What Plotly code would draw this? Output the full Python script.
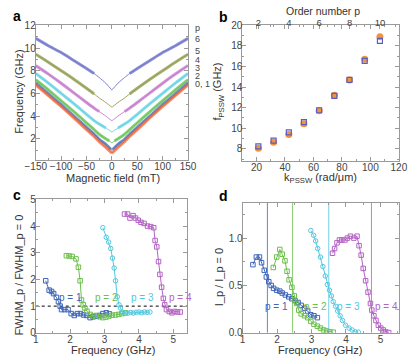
import plotly.graph_objects as go

W, H = 415, 363
FONT = "Liberation Sans, Arial, sans-serif"

# ---- panel a: PSSW branches vs field ----
field = [-150, -125, -100, -75, -50, -35, -25, -12, -5, -2, 0, 2, 5, 12, 25, 35, 50, 75, 100, 125, 150]
branch_names = ["6", "5", "4", "3", "2", "1", "0"]
branch_colors = ["#6b6fc9", "#8c9a48", "#c274c9", "#5fd0e2", "#62c24e", "#3f6cc0", "#f26a3c"]
f_p6 = [10.85, 10.2, 9.6, 8.9, 8.2, 7.75, 7.4, 6.9, 6.55, 6.4, 6.3, 6.4, 6.55, 6.9, 7.4, 7.75, 8.2, 8.9, 9.6, 10.2, 10.85]
f_p5 = [9.45, 8.75, 8.0, 7.25, 6.45, 5.95, 5.6, 5.2, 4.95, 4.85, 4.8, 4.85, 4.95, 5.2, 5.6, 5.95, 6.45, 7.25, 8.0, 8.75, 9.45]
f_p4 = [8.45, 7.7, 6.9, 6.05, 5.2, 4.7, 4.4, 4.0, 3.75, 3.65, 3.6, 3.65, 3.75, 4.0, 4.4, 4.7, 5.2, 6.05, 6.9, 7.7, 8.45]
f_p3 = [7.75, 6.9, 6.0, 5.1, 4.15, 3.6, 3.3, 2.95, 2.75, 2.65, 2.6, 2.65, 2.75, 2.95, 3.3, 3.6, 4.15, 5.1, 6.0, 6.9, 7.75]
f_p2 = [7.2, 6.3, 5.35, 4.4, 3.4, 2.8, 2.4, 2.0, 1.8, 1.7, 1.65, 1.7, 1.8, 2.0, 2.4, 2.8, 3.4, 4.4, 5.35, 6.3, 7.2]
f_p1 = [6.9, 5.95, 5.0, 4.0, 3.0, 2.4, 1.95, 1.5, 1.2, 1.05, 1.0, 1.05, 1.2, 1.5, 1.95, 2.4, 3.0, 4.0, 5.0, 5.95, 6.9]
f_p0 = [6.75, 5.8, 4.85, 3.85, 2.8, 2.2, 1.75, 1.25, 0.95, 0.8, 0.75, 0.8, 0.95, 1.25, 1.75, 2.2, 2.8, 3.85, 4.85, 5.8, 6.75]
# measured data only exists for |B| >= cutoff
data_cutoff = [35, 35, 25, 12, 5, 2, 0]
branch_labels = ["p", "6", "5", "4", "3", "2", "0, 1"]
branch_label_y = [23, 34, 47, 56, 64, 72, 81]

# ---- panel b ----
k_pssw = [21.3, 32.0, 42.7, 53.3, 64.0, 74.7, 85.3, 96.0, 106.7]
f_meas = [8.05, 8.65, 9.4, 10.45, 11.7, 13.2, 14.7, 16.7, 18.9]
f_calc = [8.25, 8.8, 9.6, 10.6, 11.75, 13.15, 14.7, 16.55, 18.5]
order_ticks = [2, 4, 6, 8, 10]

# ---- panel c: linewidth ratio ----
c_p1_x = [1.29, 1.39, 1.46, 1.52, 1.6, 1.66, 1.71, 1.75, 1.84, 1.94, 2.03, 2.12, 2.21, 2.3, 2.39, 2.48, 2.58, 2.67, 2.76, 2.86, 2.95, 3.05, 3.14]
c_p1_y = [1.95, 1.6, 1.55, 1.47, 1.33, 1.17, 1.0, 0.87, 0.87, 0.87, 0.72, 0.65, 0.72, 0.72, 0.67, 0.65, 0.57, 0.6, 0.62, 0.65, 0.72, 0.75, 0.71]
c_p2_x = [1.89, 1.97, 2.06, 2.17, 2.24, 2.29, 2.33, 2.38, 2.43, 2.49, 2.58, 2.67, 2.76, 2.86, 2.95, 3.04, 3.13, 3.22, 3.32, 3.41, 3.5, 3.6]
c_p2_y = [2.89, 2.88, 2.86, 2.77, 2.46, 1.95, 1.23, 1.05, 0.93, 0.81, 0.69, 0.63, 0.65, 0.6, 0.57, 0.59, 0.63, 0.66, 0.67, 0.69, 0.72, 0.75]
c_p3_x = [2.95, 3.05, 3.12, 3.18, 3.23, 3.28, 3.32, 3.37, 3.42, 3.46, 3.52, 3.6, 3.68, 3.76, 3.84, 3.92, 4.0, 4.08, 4.16, 4.24, 4.32]
c_p3_y = [3.94, 3.58, 3.4, 3.16, 2.8, 2.43, 1.95, 1.35, 1.05, 0.93, 0.77, 0.73, 0.74, 0.76, 0.74, 0.77, 0.78, 0.75, 0.78, 0.77, 0.78]
c_p4_x = [3.58, 3.67, 3.74, 3.83, 3.9, 3.98, 4.06, 4.15, 4.25, 4.34, 4.43, 4.47, 4.52, 4.57, 4.61, 4.66, 4.71, 4.75, 4.8, 4.88, 4.96, 5.04, 5.12, 5.2]
c_p4_y = [4.45, 4.45, 4.3, 4.39, 4.3, 4.22, 4.14, 4.1, 4.0, 3.98, 3.94, 3.46, 3.22, 2.67, 2.19, 1.71, 1.29, 1.05, 0.87, 0.8, 0.75, 0.8, 0.78, 0.78]

# ---- panel d: intensity ratio ----
d_p1_x = [1.3, 1.4, 1.49, 1.55, 1.63, 1.69, 1.76, 1.83, 1.9, 1.99, 2.08, 2.15, 2.24, 2.34, 2.43, 2.52, 2.61, 2.7, 2.8, 2.89, 2.98, 3.07, 3.17]
d_p1_y = [0.72, 0.8, 0.8, 0.74, 0.66, 0.59, 0.54, 0.5, 0.47, 0.45, 0.44, 0.42, 0.4, 0.38, 0.36, 0.34, 0.32, 0.29, 0.26, 0.23, 0.19, 0.18, 0.16]
d_p2_x = [1.89, 1.99, 2.08, 2.15, 2.23, 2.29, 2.35, 2.43, 2.5, 2.57, 2.63, 2.7, 2.8, 2.89, 2.98, 3.07, 3.17, 3.26, 3.35, 3.44, 3.53, 3.63]
d_p2_y = [0.69, 0.8, 0.88, 0.83, 0.76, 0.65, 0.56, 0.48, 0.39, 0.31, 0.24, 0.2, 0.18, 0.16, 0.12, 0.09, 0.07, 0.05, 0.03, 0.02, 0.01, 0.007]
d_p3_x = [2.98, 3.06, 3.12, 3.18, 3.26, 3.33, 3.4, 3.46, 3.52, 3.58, 3.63, 3.7, 3.76, 3.83, 3.9, 3.99, 4.09, 4.18, 4.27, 4.36]
d_p3_y = [1.08, 1.03, 0.97, 0.89, 0.8, 0.7, 0.6, 0.51, 0.45, 0.39, 0.33, 0.28, 0.23, 0.18, 0.13, 0.08, 0.05, 0.03, 0.01, 0.007]
d_p4_x = [3.61, 3.67, 3.74, 3.81, 3.88, 3.97, 4.04, 4.13, 4.23, 4.32, 4.38, 4.44, 4.5, 4.57, 4.64, 4.71, 4.75, 4.81, 4.87, 4.94, 5.01, 5.08, 5.15, 5.24]
d_p4_y = [0.84, 0.89, 0.95, 0.98, 0.98, 0.98, 1.0, 1.02, 1.0, 1.02, 0.92, 0.82, 0.68, 0.55, 0.43, 0.31, 0.24, 0.18, 0.13, 0.08, 0.05, 0.03, 0.01, 0.003]
d_cutoff_freq = [1.72, 2.45, 3.5, 4.74]

mode_names = ["p = 1", "p = 2", "p = 3", "p = 4"]
mode_colors = ["#3f66b8", "#6cc04c", "#52c8e0", "#b463c4"]
mode_symbols = ["square-open", "square-open", "circle-open", "square-open"]
c_label_x = [2.01, 3.05, 4.1, 5.2]
d_label_x = [1.99, 3.12, 4.07, 5.17]


def px(x):
    return x / W


def py(y):
    return 1 - y / H


fig = go.Figure()

branches = [f_p6, f_p5, f_p4, f_p3, f_p2, f_p1, f_p0]
for name, col, ys, cut in zip(branch_names, branch_colors, branches, data_cutoff):
    fig.add_trace(go.Scatter(x=field, y=ys, mode="lines", line=dict(color=col, width=0.9, shape="spline", smoothing=0.5),
                             xaxis="x", yaxis="y", showlegend=False))
    for side in (-1, 1):
        xs = [b for b in field if b * side >= cut]
        yy = [f for b, f in zip(field, ys) if b * side >= cut]
        fig.add_trace(go.Scatter(x=xs, y=yy, mode="lines", opacity=0.75,
                                 line=dict(color=col, width=3, shape="spline", smoothing=0.5),
                                 xaxis="x", yaxis="y", showlegend=False))

fig.add_trace(go.Scatter(x=k_pssw, y=f_meas, mode="markers", xaxis="x2", yaxis="y2", showlegend=False,
                         marker=dict(symbol="circle", size=7, color="#f5923c")))
fig.add_trace(go.Scatter(x=k_pssw, y=f_calc, mode="markers", xaxis="x2", yaxis="y2", showlegend=False,
                         marker=dict(symbol="square-open", size=5, color="#5a5ec0", line=dict(width=1.2))))
# empty trace so the top "order number" axis gets drawn
fig.add_trace(go.Scatter(x=order_ticks, y=[None] * len(order_ticks), mode="markers", xaxis="x5", yaxis="y2",
                         showlegend=False, hoverinfo="skip"))

c_x = [c_p1_x, c_p2_x, c_p3_x, c_p4_x]
c_y = [c_p1_y, c_p2_y, c_p3_y, c_p4_y]
d_x = [d_p1_x, d_p2_x, d_p3_x, d_p4_x]
d_y = [d_p1_y, d_p2_y, d_p3_y, d_p4_y]

fig.add_trace(go.Scatter(x=[1, 5.4], y=[1, 1], mode="lines", xaxis="x3", yaxis="y3", showlegend=False,
                         line=dict(color="black", width=1, dash="dot")))
for i in range(4):
    fig.add_trace(go.Scatter(x=c_x[i], y=c_y[i], mode="lines+markers", xaxis="x3", yaxis="y3", showlegend=False,
                             line=dict(color=mode_colors[i], width=1),
                             marker=dict(symbol=mode_symbols[i], size=4.5, color=mode_colors[i], line=dict(width=1))))
    fig.add_trace(go.Scatter(x=[d_cutoff_freq[i]] * 2, y=[0, 1.375], mode="lines", xaxis="x4", yaxis="y4",
                             showlegend=False, line=dict(color=mode_colors[i], width=0.8)))
    fig.add_trace(go.Scatter(x=d_x[i], y=d_y[i], mode="lines+markers", xaxis="x4", yaxis="y4", showlegend=False,
                             line=dict(color=mode_colors[i], width=1),
                             marker=dict(symbol=mode_symbols[i], size=4.5, color=mode_colors[i], line=dict(width=1))))

ax = dict(showline=True, mirror="ticks", linecolor="#9a9a9a", linewidth=1, ticks="inside", ticklen=4,
          tickcolor="#9a9a9a", showgrid=False, zeroline=False, tickfont=dict(size=10, color="#444", family=FONT),
          ticklabelstandoff=-3, minor=dict(ticks="inside", ticklen=2, tickcolor="#9a9a9a"))

annotations = []


def note(text, x, y, size=11, angle=0, color="#333", xanchor="center", bold=False):
    annotations.append(dict(text=f"<b>{text}</b>" if bold else text, x=px(x), y=py(y), xref="paper", yref="paper",
                            showarrow=False, textangle=angle, xanchor=xanchor, yanchor="middle",
                            font=dict(size=size, color=color, family=FONT)))


note("a", 6, 10, size=14, color="black", bold=True)
note("b", 223, 11, size=14, color="black", bold=True)
note("c", 6, 195, size=14, color="black", bold=True)
note("d", 223, 196, size=14, color="black", bold=True)

note("Frequency (GHz)", 8, 89, angle=-90)
note("Magnetic field (mT)", 107, 178)
note("Order number p", 328, 5, size=10.5)
note("f<sub>PSSW</sub> (GHz)", 218, 88, angle=-90)
note("k<sub>PSSW</sub> (rad/μm)", 325, 178)
note("FWHM_p / FWHM_p = 0", 8, 278, angle=-90)
note("Frequency (GHz)", 107, 356)
note("I_p / I_p = 0", 218, 280, angle=-90)
note("Frequency (GHz)", 325, 356)

for lab, yy in zip(branch_labels, branch_label_y):
    note(lab, 191, yy, size=9, color="#444", xanchor="left")

for i in range(4):
    annotations.append(dict(text=mode_names[i], x=c_label_x[i], y=1.31, xref="x3", yref="y3", showarrow=False,
                            font=dict(size=10, color=mode_colors[i], family=FONT)))
    annotations.append(dict(text=mode_names[i], x=d_label_x[i], y=0.28, xref="x4", yref="y4", showarrow=False,
                            font=dict(size=10, color=mode_colors[i], family=FONT)))

fig.update_layout(
    width=W, height=H, margin=dict(l=0, r=0, t=0, b=0),
    paper_bgcolor="white", plot_bgcolor="white", font=dict(family=FONT),
    xaxis=dict(ax, domain=[px(26), px(186)], range=[-150, 150], tickvals=[-150, -100, -50, 0, 50, 100, 150],
               minor=dict(ax["minor"], dtick=25), anchor="y"),
    yaxis=dict(ax, domain=[py(159), py(20)], range=[0.15, 12], tickvals=[2, 4, 6, 8, 10, 12],
               minor=dict(ax["minor"], dtick=1), anchor="x"),
    xaxis2=dict(ax, domain=[px(243), px(407.5)], range=[10, 120], tickvals=[20, 40, 60, 80, 100, 120],
                minor=dict(ax["minor"], dtick=10), anchor="y2"),
    yaxis2=dict(ax, domain=[py(160), py(20)], range=[6.85, 20], tickvals=[8, 10, 12, 14, 16, 18, 20],
                minor=dict(ax["minor"], dtick=1), anchor="x2"),
    xaxis5=dict(ax, overlaying="x2", side="top", anchor="y2", range=[10 / 10.67, 120 / 10.67],
                tickvals=order_ticks, mirror=False, ticklabelstandoff=-5,
                tickfont=dict(size=9.5, color="#444", family=FONT), minor=dict(ax["minor"], dtick=1)),
    xaxis3=dict(ax, domain=[px(26), px(185)], range=[1, 5.4], tickvals=[1, 2, 3, 4, 5],
                minor=dict(ax["minor"], dtick=0.5), anchor="y3"),
    yaxis3=dict(ax, domain=[py(338), py(200)], range=[0, 5], tickvals=[0, 1, 2, 3, 4, 5],
                minor=dict(ax["minor"], dtick=0.5), anchor="x3"),
    xaxis4=dict(ax, domain=[px(243.3), px(407.7)], range=[1, 5.54], tickvals=[1, 2, 3, 4, 5],
                minor=dict(ax["minor"], dtick=0.5), anchor="y4"),
    yaxis4=dict(ax, domain=[py(338), py(203.3)], range=[0, 1.375], tickvals=[0, 0.5, 1.0], tickformat=".1f",
                minor=dict(ax["minor"], dtick=0.25), anchor="x4"),
    annotations=annotations,
)

# the page body has a default 8px margin; drop it so the figure sits at the window corner
fig.write_html("out.html", config={"displayModeBar": False},
               post_script="document.body.style.margin='0px';")
